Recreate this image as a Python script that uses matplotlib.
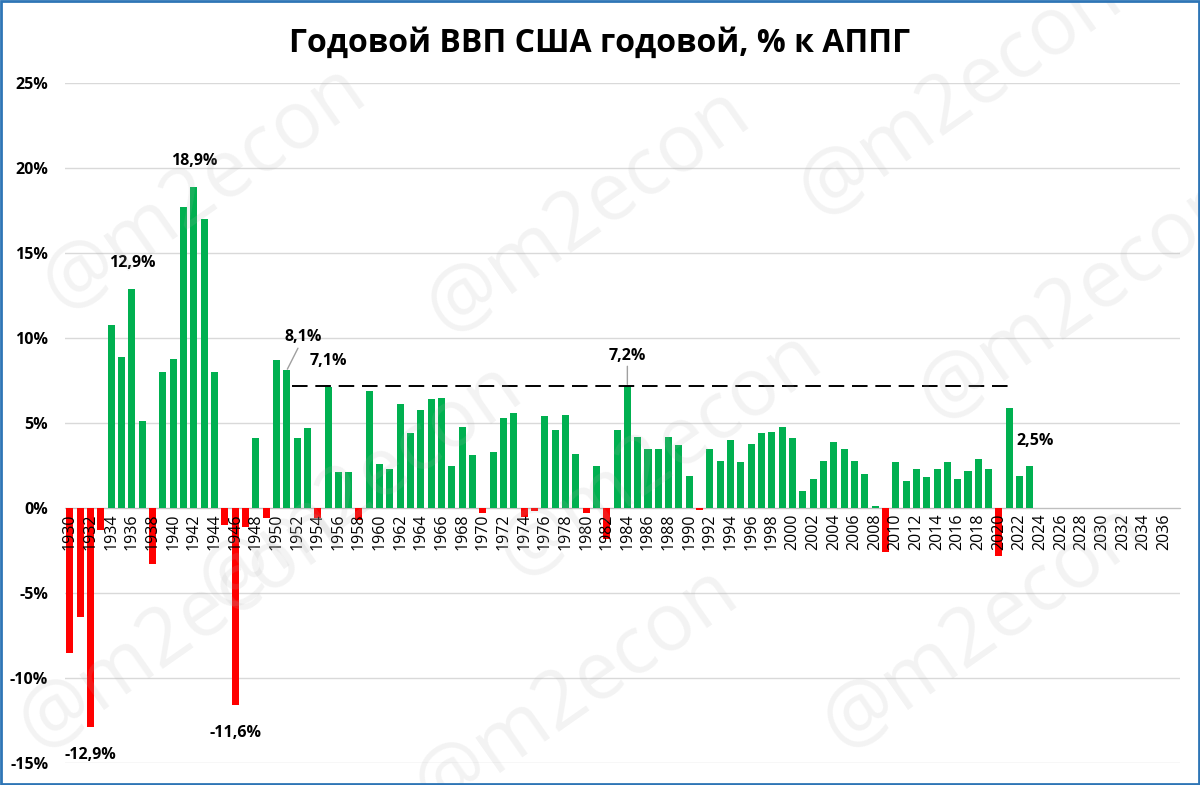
import numpy as np
import matplotlib.pyplot as plt
from matplotlib.patches import Rectangle

plt.rcParams['font.family'] = ['Open Sans', 'DejaVu Sans']

# годы (категории оси X) и рост ВВП, % к АППГ
years = list(range(1930, 2038))
gdp = [-8.5, -6.4, -12.9, -1.3, 10.8, 8.9, 12.9, 5.1, -3.3, 8.0,
       8.8, 17.7, 18.9, 17.0, 8.0, -1.0, -11.6, -1.1, 4.1, -0.6,
       8.7, 8.1, 4.1, 4.7, -0.6, 7.1, 2.1, 2.1, -0.7, 6.9,
       2.6, 2.3, 6.1, 4.4, 5.8, 6.4, 6.5, 2.5, 4.8, 3.1,
       -0.3, 3.3, 5.3, 5.6, -0.5, -0.2, 5.4, 4.6, 5.5, 3.2,
       -0.3, 2.5, -1.8, 4.6, 7.2, 4.2, 3.5, 3.5, 4.2, 3.7,
       1.9, -0.1, 3.5, 2.8, 4.0, 2.7, 3.8, 4.4, 4.5, 4.8,
       4.1, 1.0, 1.7, 2.8, 3.9, 3.5, 2.8, 2.0, 0.1, -2.6,
       2.7, 1.6, 2.3, 1.8, 2.3, 2.7, 1.7, 2.2, 2.9, 2.3,
       -2.8, 5.9, 1.9, 2.5]
tick_years = list(range(1930, 2037, 2))

# уровень 1984 г. (пунктир)
ref_level = 7.2
ref_from, ref_to = 1951.5, 2021.3

# подписи значений: год -> (текст, смещение в пунктах)
labels = {1932: ("-12,9%", (0, -14)), 1936: ("12,9%", (0, 13)),
          1942: ("18,9%", (0, 13)), 1946: ("-11,6%", (0, -14)),
          1951: ("8,1%", (12, 18)), 1955: ("7,1%", (0, 13)),
          1984: ("7,2%", (0, 16)), 2023: ("2,5%", (4, 12))}

fig = plt.figure(figsize=(12, 7.85), dpi=100)
ax = fig.add_axes([0.054, 0.028, 0.929, 0.866])

# водяные знаки
for wx, wy in [(0.17, 0.76), (0.49, 0.73), (0.8, 0.88), (0.9, 0.62),
               (0.3, 0.38), (0.55, 0.42), (0.15, 0.2), (0.48, 0.12),
               (0.82, 0.2)]:
    fig.text(wx, wy, "@m2econ", fontsize=58, color='#b0b0b0', alpha=0.15,
             rotation=35, ha='center', va='center', zorder=0)

vals = np.array(gdp)
xs = np.array(years[:len(gdp)])
colors = ['#00b050' if v >= 0 else '#ff0000' for v in vals]
ax.bar(xs, vals, width=0.68, color=colors, zorder=3)

ax.hlines(ref_level, ref_from, ref_to, colors='black', linestyles=(0, (8, 4)),
          linewidth=1.4, zorder=4)

for yr, (txt, off) in labels.items():
    v = gdp[yr - 1930]
    leader = yr in (1951, 1984)
    ax.annotate(txt, xy=(yr, v), xytext=off, textcoords='offset points',
                ha='center', va='bottom' if v >= 0 else 'top',
                fontsize=11.5, fontweight='bold', zorder=5,
                arrowprops=dict(arrowstyle='-', color='#a0a0a0', lw=1,
                                shrinkA=0, shrinkB=1) if leader else None)

ax.spines['bottom'].set_position(('data', 0))
for s in ['top', 'right', 'left']:
    ax.spines[s].set_visible(False)
ax.spines['bottom'].set_color('#bfbfbf')

ax.set_xlim(1929.5, 2037.5)
ax.set_ylim(-15, 25)
ax.set_yticks(range(-15, 26, 5))
ax.set_yticklabels([f"{t}%" for t in range(-15, 26, 5)], fontsize=11.5,
                   fontweight='bold')
ax.set_xticks(tick_years)
ax.set_xticklabels([str(y) for y in tick_years], fontsize=11.5)
ax.tick_params(axis='both', length=0)
ax.tick_params(axis='x', pad=4, labelrotation=90)
ax.tick_params(axis='y', pad=12)
ax.grid(axis='y', color='#d9d9d9', linewidth=1)
ax.set_axisbelow(True)
ax.xaxis.set_zorder(6)

fig.text(0.5, 0.945, "Годовой ВВП США годовой, % к АППГ", ha='center',
         va='center', fontsize=23, fontweight='bold')

fig.patches.append(Rectangle((0.001, 0.001), 0.998, 0.998,
                             transform=fig.transFigure, fill=False,
                             edgecolor='#2e75b6', linewidth=2))

fig.savefig("out.png", dpi=100)
